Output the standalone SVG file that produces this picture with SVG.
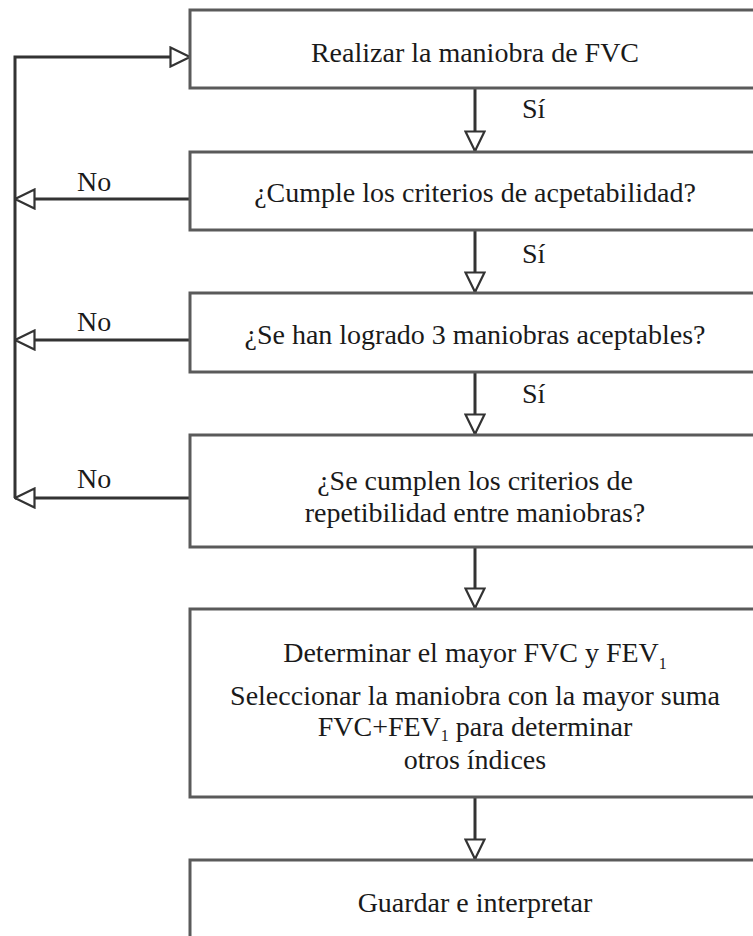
<svg xmlns="http://www.w3.org/2000/svg" width="753" height="936" viewBox="0 0 753 936">
<style>
.box{fill:#fff;stroke:#5a5a5a;stroke-width:3}
.conn{fill:none;stroke:#333;stroke-width:3}
.t{font-family:"Liberation Serif","Times New Roman",serif;font-size:28px;fill:#1a1a1a;text-anchor:middle}
.lbl{font-family:"Liberation Serif","Times New Roman",serif;font-size:28px;fill:#1a1a1a}
.sub{font-size:16px}
</style>
<defs>
<marker id="ah" viewBox="0 0 22 22" refX="21" refY="11" markerWidth="22" markerHeight="22" markerUnits="userSpaceOnUse" orient="auto">
<path d="M1.5,1.5 L21,11 L1.5,20.5 Z" fill="#fff" stroke="#333" stroke-width="2.2"/>
</marker>
</defs>
<rect width="753" height="936" fill="#fff"/>
<g id="connectors">
<path class="conn" d="M190,199 L15,199" marker-end="url(#ah)"/>
<path class="conn" d="M190,340 L15,340" marker-end="url(#ah)"/>
<path class="conn" d="M190,498 L15,498" marker-end="url(#ah)"/>
<path class="conn" d="M15,498 L15,57 L190,57" marker-end="url(#ah)"/>
<path class="conn" d="M475,88 L475,151" marker-end="url(#ah)"/>
<path class="conn" d="M475,230 L475,292" marker-end="url(#ah)"/>
<path class="conn" d="M475,372 L475,434" marker-end="url(#ah)"/>
<path class="conn" d="M475,547 L475,608" marker-end="url(#ah)"/>
<path class="conn" d="M475,797 L475,859" marker-end="url(#ah)"/>
<text class="lbl" x="522" y="118">Sí</text>
<text class="lbl" x="522" y="263">Sí</text>
<text class="lbl" x="522" y="403">Sí</text>
<text class="lbl" x="77" y="191">No</text>
<text class="lbl" x="77" y="331">No</text>
<text class="lbl" x="77" y="488">No</text>
</g>
<g id="n1">
<rect class="box" x="190" y="10" width="575" height="78"/>
<text class="t" x="475" y="62">Realizar la maniobra de FVC</text>
</g>
<g id="n2">
<rect class="box" x="190" y="152" width="575" height="78"/>
<text class="t" x="475" y="202">¿Cumple los criterios de acpetabilidad?</text>
</g>
<g id="n3">
<rect class="box" x="190" y="293" width="575" height="79"/>
<text class="t" x="475" y="344">¿Se han logrado 3 maniobras aceptables?</text>
</g>
<g id="n4">
<rect class="box" x="190" y="435" width="575" height="112"/>
<text class="t" x="475" y="490">¿Se cumplen los criterios de</text>
<text class="t" x="475" y="522">repetibilidad entre maniobras?</text>
</g>
<g id="n5">
<rect class="box" x="190" y="609" width="575" height="188"/>
<text class="t" x="475" y="662">Determinar el mayor FVC y FEV<tspan class="sub" dy="7">1</tspan></text>
<text class="t" x="475" y="705">Seleccionar la maniobra con la mayor suma</text>
<text class="t" x="475" y="736">FVC+FEV<tspan class="sub" dy="5">1</tspan><tspan dy="-5"> para determinar</tspan></text>
<text class="t" x="475" y="769">otros índices</text>
</g>
<g id="n6">
<rect class="box" x="190" y="860" width="575" height="90"/>
<text class="t" x="475" y="912">Guardar e interpretar</text>
</g>
</svg>
